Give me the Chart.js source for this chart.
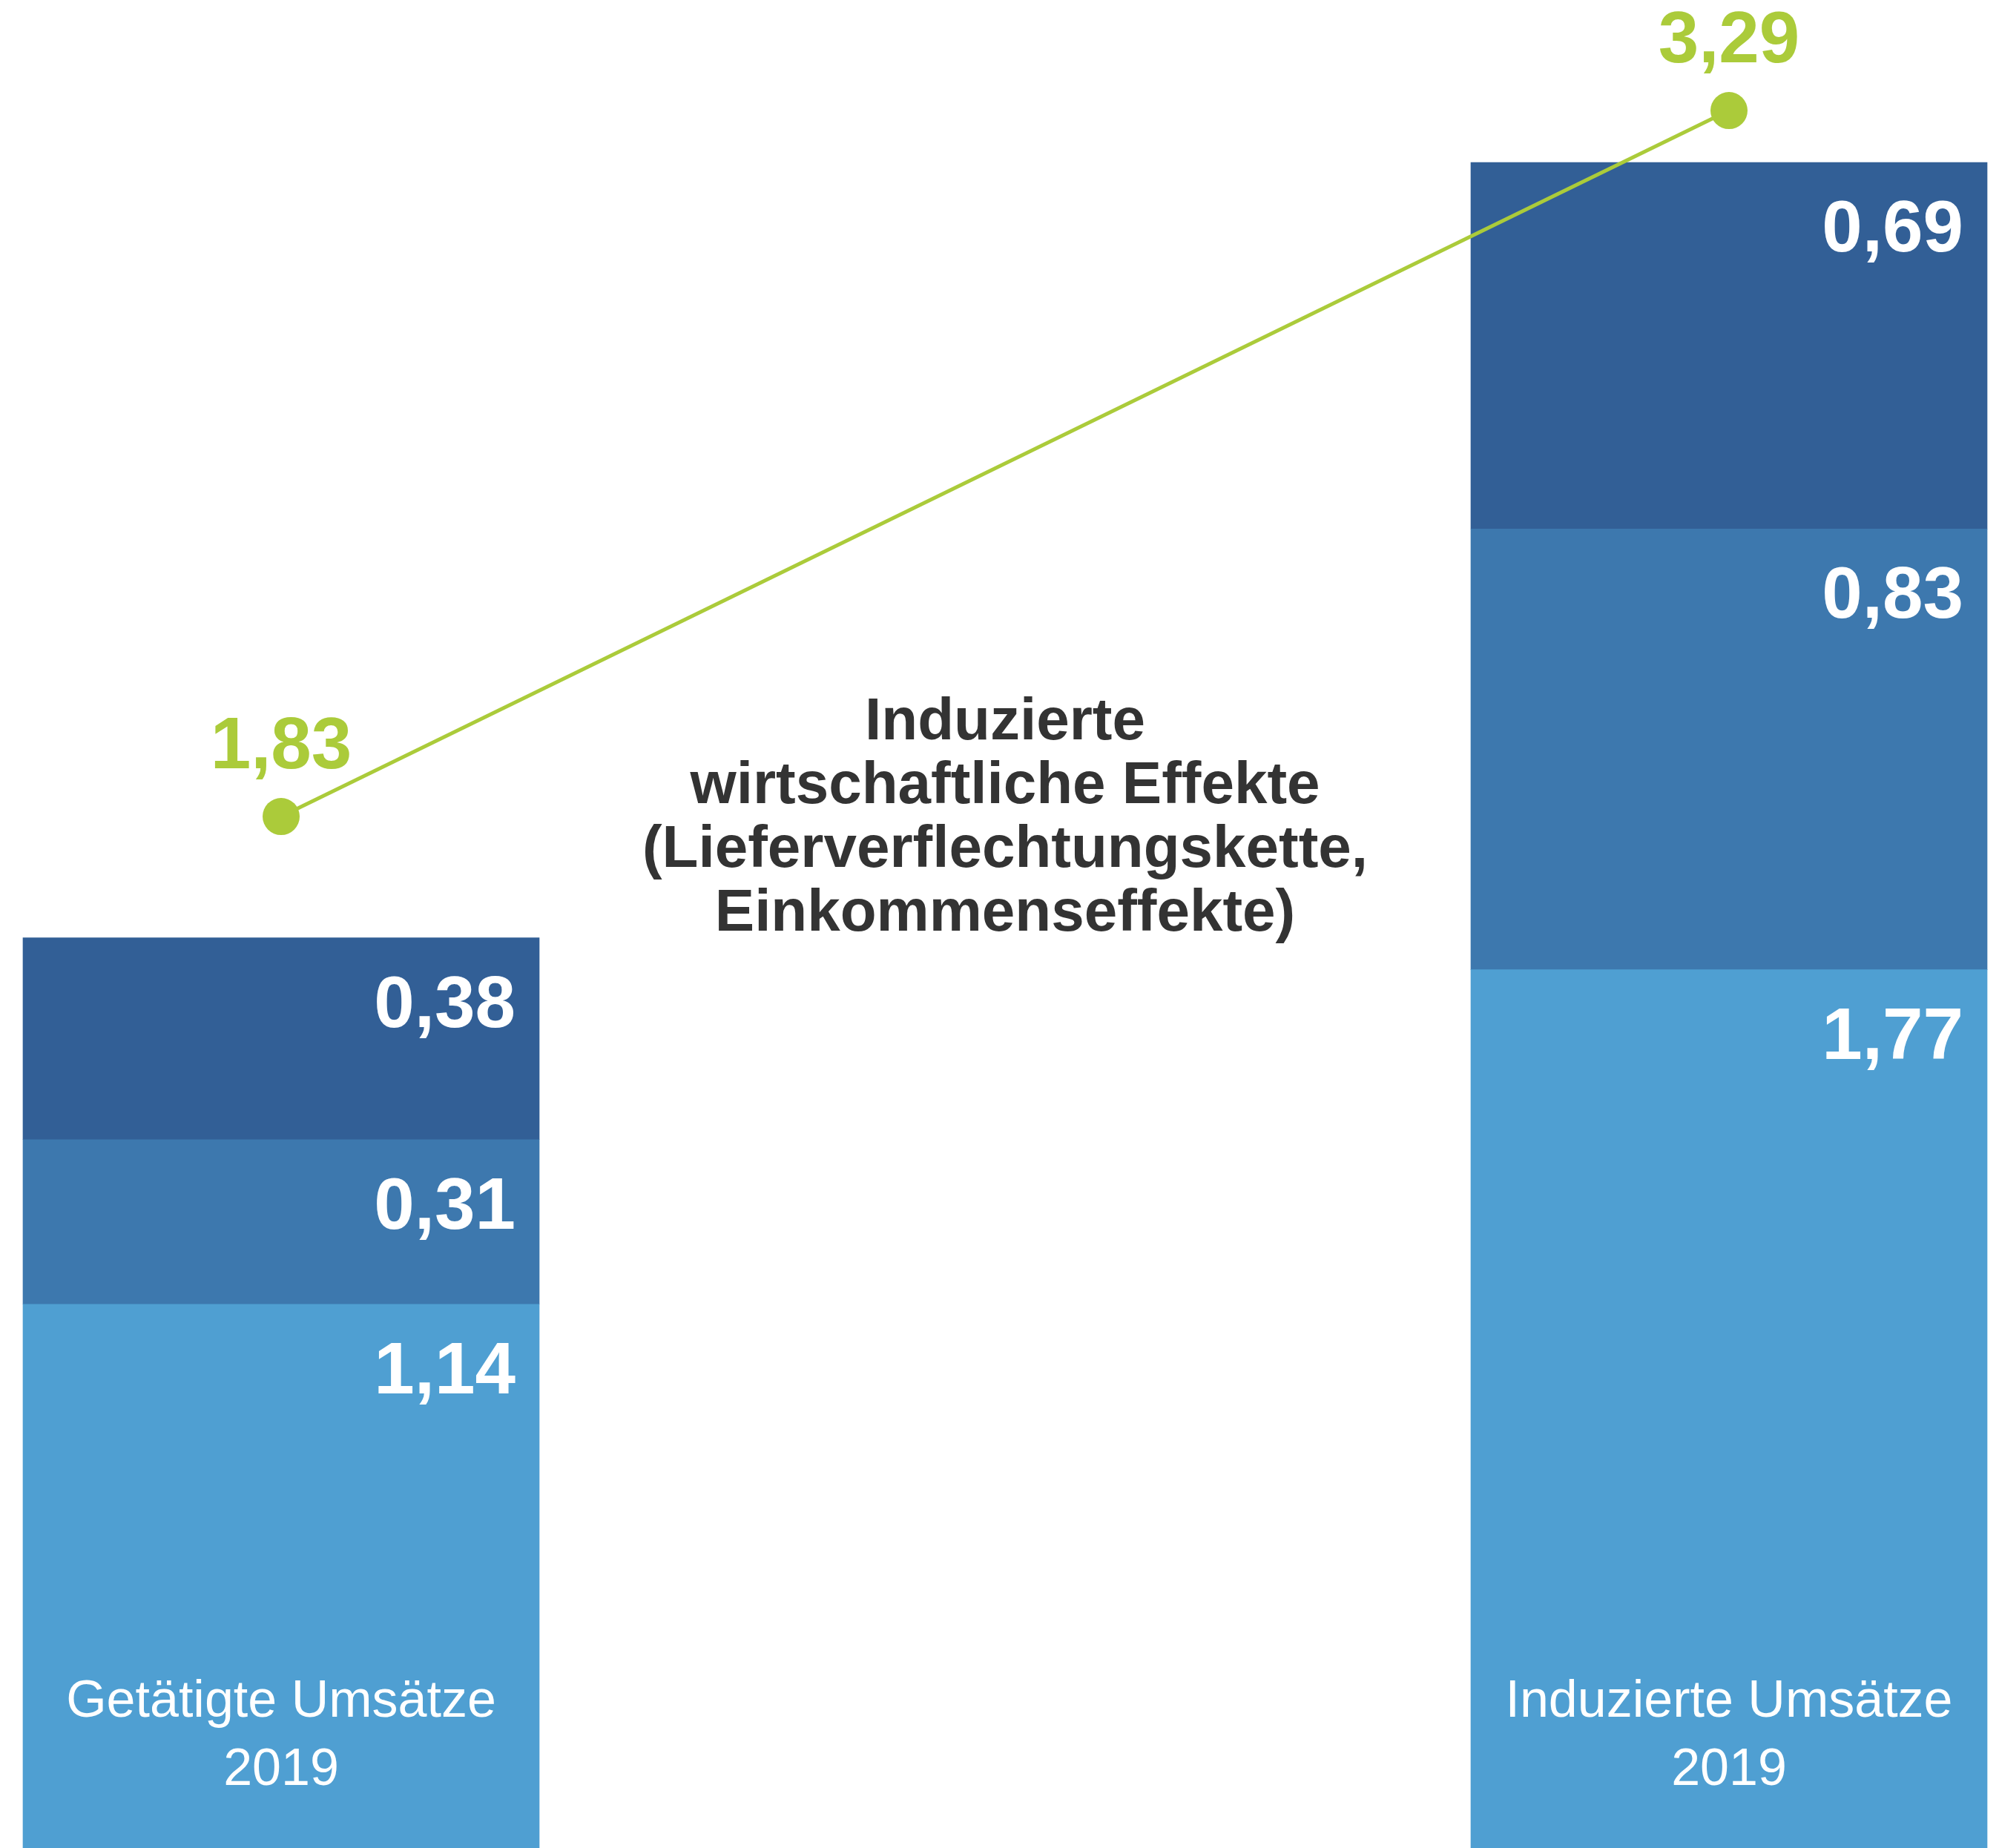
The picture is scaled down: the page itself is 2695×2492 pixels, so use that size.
<!DOCTYPE html>
<html>
<head>
<meta charset="utf-8">
<script src="https://cdn.jsdelivr.net/npm/chart.js@4/dist/chart.umd.min.js"></script>
<style>
  html, body { margin: 0; padding: 0; background: #ffffff; }
  #wrap { width: 2695px; height: 2492px; position: relative; }
</style>
</head>
<body>
<div id="wrap"><canvas id="c" width="2695" height="2492"></canvas></div>
<script>
// ---- Data ----
const categories = [['Getätigte Umsätze', '2019'], ['Induzierte Umsätze', '2019']];
const directValues = [1.14, 1.77];
const supplyChainValues = [0.31, 0.83];
const incomeValues = [0.38, 0.69];
const totalValues = [1.83, 3.29];
const centerNote = ['Induzierte', 'wirtschaftliche Effekte', '(Lieferverflechtungskette,', 'Einkommenseffekte)'];

const COLORS = {
  light: '#4F9FD2',
  mid: '#3D78AE',
  dark: '#325F96',
  green: '#ABCB3A',
  text: '#333333'
};
const FONT = '"Liberation Sans", Arial, Helvetica, sans-serif';

function fmt(v) { return v.toFixed(2).replace('.', ','); }

const labelsPlugin = {
  id: 'customLabels',
  afterDatasetsDraw(chart) {
    const ctx = chart.ctx;
    const area = chart.chartArea;
    ctx.save();
    // value labels inside bar segments
    chart.data.datasets.forEach((ds, di) => {
      if (ds.type === 'line') return;
      const meta = chart.getDatasetMeta(di);
      meta.data.forEach((bar, i) => {
        const props = bar.getProps(['x', 'y', 'width'], true);
        const right = props.x + props.width / 2;
        ctx.font = 'bold 98px ' + FONT;
        ctx.fillStyle = '#ffffff';
        ctx.textAlign = 'right';
        ctx.textBaseline = 'alphabetic';
        ctx.fillText(fmt(ds.data[i]), right - 32, props.y + 120);
      });
    });
    // totals above line points
    chart.data.datasets.forEach((ds, di) => {
      if (ds.type !== 'line') return;
      const meta = chart.getDatasetMeta(di);
      meta.data.forEach((pt, i) => {
        ctx.font = 'bold 98px ' + FONT;
        ctx.fillStyle = COLORS.green;
        ctx.textAlign = 'center';
        ctx.textBaseline = 'alphabetic';
        ctx.fillText(fmt(ds.data[i]), pt.x, pt.y - 65);
      });
    });
    // category labels inside bars at bottom
    const xs = chart.scales.x;
    categories.forEach((lines, i) => {
      const x = xs.getPixelForValue(i);
      ctx.font = '70px ' + FONT;
      ctx.fillStyle = '#ffffff';
      ctx.textAlign = 'center';
      ctx.textBaseline = 'alphabetic';
      lines.forEach((t, li) => {
        ctx.fillText(t, x, area.bottom - 177 + li * 92);
      });
    });
    // center note
    const cx = (xs.getPixelForValue(0) + xs.getPixelForValue(1)) / 2;
    ctx.font = 'bold 80px ' + FONT;
    ctx.fillStyle = COLORS.text;
    ctx.textAlign = 'center';
    centerNote.forEach((t, li) => {
      ctx.fillText(t, cx, 997 + li * 86);
    });
    ctx.restore();
  }
};

new Chart(document.getElementById('c'), {
  data: {
    labels: categories,
    datasets: [
      {
        type: 'line',
        label: 'Gesamt',
        data: totalValues,
        yAxisID: 'y2',
        stack: 'total',
        borderColor: COLORS.green,
        backgroundColor: COLORS.green,
        borderWidth: 5,
        pointRadius: 25,
        pointHoverRadius: 25,
        pointBackgroundColor: COLORS.green,
        pointBorderWidth: 0,
        tension: 0,
        clip: false,
        order: 0
      },
      {
        type: 'bar',
        label: 'Direkt',
        data: directValues,
        backgroundColor: COLORS.light,
        stack: 's',
        clip: false,
        order: 1
      },
      {
        type: 'bar',
        label: 'Lieferverflechtung',
        data: supplyChainValues,
        backgroundColor: COLORS.mid,
        stack: 's',
        clip: false,
        order: 1
      },
      {
        type: 'bar',
        label: 'Einkommenseffekte',
        data: incomeValues,
        backgroundColor: COLORS.dark,
        stack: 's',
        clip: false,
        order: 1
      }
    ]
  },
  options: {
    responsive: false,
    animation: false,
    devicePixelRatio: 1,
    layout: { autoPadding: false, padding: { left: 379, right: 364, top: 0, bottom: 0 } },
    datasets: { bar: { barThickness: 696, borderWidth: 0 } },
    plugins: { legend: { display: false }, tooltip: { enabled: false } },
    scales: {
      x: { type: 'category', offset: false, stacked: true, display: false, grid: { display: false } },
      y: { type: 'linear', stacked: true, min: 0.116, max: 3.596, display: false, grid: { display: false } },
      y2: { type: 'linear', stacked: false, min: -0.3032, max: 3.5186, display: false, grid: { display: false } }
    }
  },
  plugins: [labelsPlugin]
});
</script>
</body>
</html>
